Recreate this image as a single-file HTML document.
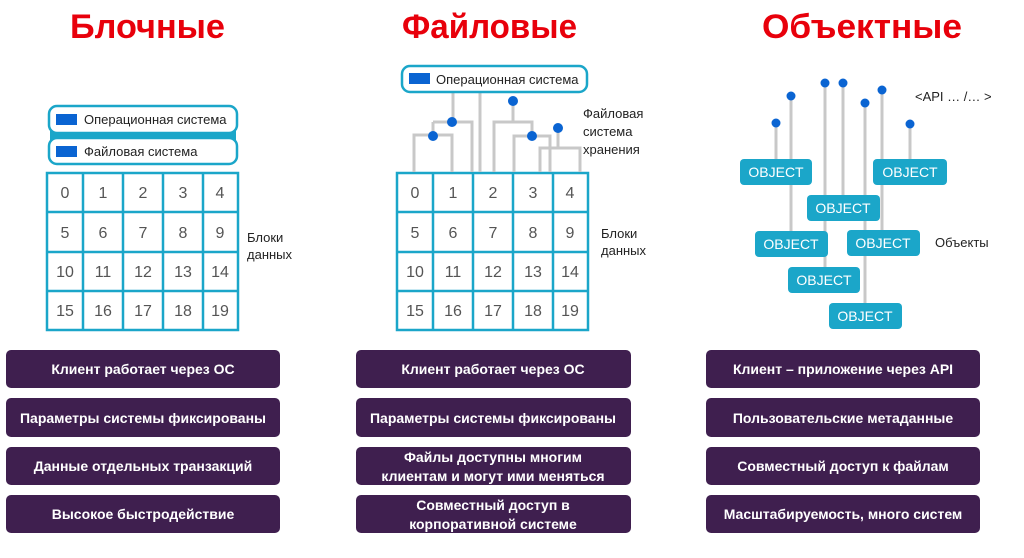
<!DOCTYPE html>
<html><head><meta charset="utf-8"><style>
html,body{margin:0;padding:0;background:#fff;width:1024px;height:558px;overflow:hidden}
svg{display:block;font-family:"Liberation Sans","DejaVu Sans",sans-serif}
.t{fill:#e8000b;font-weight:bold;font-size:34px}
.n{fill:#555;font-size:16px;text-anchor:middle}
.l{fill:#222;font-size:13px}
.p{fill:#fff;font-weight:bold;font-size:14px;text-anchor:middle}
.o{fill:#fff;font-size:14px;text-anchor:middle}
</style></head><body>
<svg width="1024" height="558" viewBox="0 0 1024 558">
<rect width="1024" height="558" fill="#fff"/>
<text class="t" x="70" y="38" textLength="155" lengthAdjust="spacingAndGlyphs">Блочные</text>
<text class="t" x="402" y="38" textLength="175" lengthAdjust="spacingAndGlyphs">Файловые</text>
<text class="t" x="762" y="38" textLength="200" lengthAdjust="spacingAndGlyphs">Объектные</text>

<!-- left stack -->
<rect x="50" y="128" width="186" height="14" fill="#1ba6c9"/>
<rect x="49" y="106" width="188" height="27" rx="8" fill="#fff" stroke="#1ba6c9" stroke-width="2.5"/>
<rect x="49" y="138" width="188" height="26" rx="8" fill="#fff" stroke="#1ba6c9" stroke-width="2.5"/>
<rect x="56" y="114" width="21" height="11" fill="#0a64d2"/>
<rect x="56" y="146" width="21" height="11" fill="#0a64d2"/>
<text class="l" x="84" y="124">Операционная система</text>
<text class="l" x="84" y="156">Файловая система</text>

<!-- grids -->
<g fill="none" stroke="#1ba6c9" stroke-width="2.5">
<rect x="47" y="173" width="191" height="157"/>
<path d="M83 173V330M123 173V330M163 173V330M203 173V330M47 212H238M47 252H238M47 291H238"/>
<rect x="397" y="173" width="191" height="157"/>
<path d="M433 173V330M473 173V330M513 173V330M553 173V330M397 212H588M397 252H588M397 291H588"/>
</g>
<g class="n">
<text x="65" y="198">0</text><text x="103" y="198">1</text><text x="143" y="198">2</text><text x="183" y="198">3</text><text x="220" y="198">4</text>
<text x="65" y="238">5</text><text x="103" y="238">6</text><text x="143" y="238">7</text><text x="183" y="238">8</text><text x="220" y="238">9</text>
<text x="65" y="277">10</text><text x="103" y="277">11</text><text x="143" y="277">12</text><text x="183" y="277">13</text><text x="220" y="277">14</text>
<text x="65" y="316">15</text><text x="103" y="316">16</text><text x="143" y="316">17</text><text x="183" y="316">18</text><text x="220" y="316">19</text>
<text x="415" y="198">0</text><text x="453" y="198">1</text><text x="493" y="198">2</text><text x="533" y="198">3</text><text x="570" y="198">4</text>
<text x="415" y="238">5</text><text x="453" y="238">6</text><text x="493" y="238">7</text><text x="533" y="238">8</text><text x="570" y="238">9</text>
<text x="415" y="277">10</text><text x="453" y="277">11</text><text x="493" y="277">12</text><text x="533" y="277">13</text><text x="570" y="277">14</text>
<text x="415" y="316">15</text><text x="453" y="316">16</text><text x="493" y="316">17</text><text x="533" y="316">18</text><text x="570" y="316">19</text>
</g>
<text class="l" x="247" y="242">Блоки</text><text class="l" x="247" y="259">данных</text>
<text class="l" x="601" y="238">Блоки</text><text class="l" x="601" y="255">данных</text>

<!-- middle tree -->
<g fill="none" stroke="#c8c8c8" stroke-width="3">
<path d="M453 92V122M480 92V172M433 122H472V172M433 122V136M414 172V135H452V172"/>
<path d="M513 101V122M494 172V122H532V136M514 172V136H550V172M558 128V148M540 172V148H580V172"/>
</g>
<g fill="#0a64d2">
<circle cx="452" cy="122" r="5"/><circle cx="433" cy="136" r="5"/><circle cx="513" cy="101" r="5"/>
<circle cx="532" cy="136" r="5"/><circle cx="558" cy="128" r="5"/>
</g>
<rect x="402" y="66" width="185" height="26" rx="8" fill="#fff" stroke="#1ba6c9" stroke-width="2.5"/>
<rect x="409" y="73" width="21" height="11" fill="#0a64d2"/>
<text class="l" x="436" y="84">Операционная система</text>
<text class="l" x="583" y="118">Файловая</text><text class="l" x="583" y="136">система</text><text class="l" x="583" y="154">хранения</text>

<!-- objects -->
<g fill="none" stroke="#c8c8c8" stroke-width="3">
<path d="M776 123V160M791 96V232M825 83V268M843 83V196M865 103V304M882 90V231M910 124V160"/>
</g>
<g fill="#0a64d2">
<circle cx="776" cy="123" r="4.5"/><circle cx="791" cy="96" r="4.5"/><circle cx="825" cy="83" r="4.5"/>
<circle cx="843" cy="83" r="4.5"/><circle cx="865" cy="103" r="4.5"/><circle cx="882" cy="90" r="4.5"/>
<circle cx="910" cy="124" r="4.5"/>
</g>
<g fill="#1ba6c9">
<rect x="740" y="159" width="72" height="26" rx="4"/>
<rect x="873" y="159" width="74" height="26" rx="4"/>
<rect x="807" y="195" width="73" height="26" rx="4"/>
<rect x="755" y="231" width="73" height="26" rx="4"/>
<rect x="847" y="230" width="73" height="26" rx="4"/>
<rect x="788" y="267" width="72" height="26" rx="4"/>
<rect x="829" y="303" width="73" height="26" rx="4"/>
</g>
<g class="o">
<text x="776" y="177">OBJECT</text><text x="910" y="177">OBJECT</text><text x="843" y="213">OBJECT</text>
<text x="791" y="249">OBJECT</text><text x="883" y="248">OBJECT</text><text x="824" y="285">OBJECT</text><text x="865" y="321">OBJECT</text>
</g>
<text class="l" x="915" y="101">&lt;API … /… &gt;</text>
<text class="l" x="935" y="247">Объекты</text>

<!-- purple boxes -->
<g fill="#3f1f4f">
<rect x="6" y="350" width="274" height="38" rx="5"/><rect x="6" y="398" width="274" height="39" rx="5"/>
<rect x="6" y="447" width="274" height="38" rx="5"/><rect x="6" y="495" width="274" height="38" rx="5"/>
<rect x="356" y="350" width="275" height="38" rx="5"/><rect x="356" y="398" width="275" height="39" rx="5"/>
<rect x="356" y="447" width="275" height="38" rx="5"/><rect x="356" y="495" width="275" height="38" rx="5"/>
<rect x="706" y="350" width="274" height="38" rx="5"/><rect x="706" y="398" width="274" height="39" rx="5"/>
<rect x="706" y="447" width="274" height="38" rx="5"/><rect x="706" y="495" width="274" height="38" rx="5"/>
</g>
<g class="p">
<text x="143" y="374">Клиент работает через ОС</text>
<text x="143" y="423">Параметры системы фиксированы</text>
<text x="143" y="471">Данные отдельных транзакций</text>
<text x="143" y="519">Высокое быстродействие</text>
<text x="493" y="374">Клиент работает через ОС</text>
<text x="493" y="423">Параметры системы фиксированы</text>
<text x="493" y="462">Файлы доступны многим</text>
<text x="493" y="481">клиентам и могут ими меняться</text>
<text x="493" y="510">Совместный доступ в</text>
<text x="493" y="529">корпоративной системе</text>
<text x="843" y="374">Клиент – приложение через API</text>
<text x="843" y="423">Пользовательские метаданные</text>
<text x="843" y="471">Совместный доступ к файлам</text>
<text x="843" y="519">Масштабируемость, много систем</text>
</g>
</svg>
</body></html>
